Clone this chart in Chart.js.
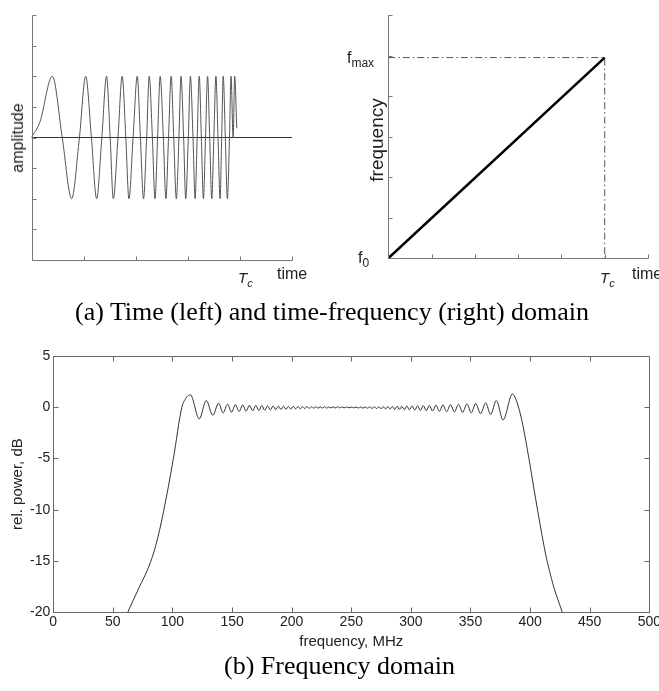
<!DOCTYPE html>
<html>
<head>
<meta charset="utf-8">
<script src="https://cdn.jsdelivr.net/npm/chart.js@4.4.1/dist/chart.umd.min.js"></script>
<style>
  body { margin: 0; width: 659px; height: 691px; overflow: hidden; background: #fff; position: relative;
         font-family: Arial, "Liberation Sans", sans-serif; color: #222; }
  canvas, .lbl, .cap { position: absolute; }
  .lbl { line-height: 1; white-space: nowrap; font-size: 16px; }
  .rot { transform: translate(-50%, -50%) rotate(-90deg); }
  .cap { font-family: "Liberation Serif", "Times New Roman", serif; font-size: 26px; line-height: 1; color: #000; white-space: nowrap; }
  sub { font-size: 0.75em; vertical-align: -0.35em; }
</style>
</head>
<body>
<canvas id="timeChart" width="330" height="300" style="left:0;top:0"></canvas>
<canvas id="sweepChart" width="329" height="300" style="left:330px;top:0"></canvas>
<canvas id="specChart" width="663" height="361" style="left:0;top:330px"></canvas>

<div class="lbl rot" style="left:18px;top:138px">amplitude</div>
<div class="lbl" style="left:277px;top:266px">time</div>
<div class="lbl" style="left:238px;top:270px;font-size:15px"><i>T<sub>c</sub></i></div>

<div class="lbl rot" style="left:376px;top:140px;font-size:19px">frequency</div>
<div class="lbl" style="left:347px;top:50px">f<sub>max</sub></div>
<div class="lbl" style="left:358px;top:250px">f<sub>0</sub></div>
<div class="lbl" style="left:632px;top:266px">time</div>
<div class="lbl" style="left:600px;top:270px;font-size:15px"><i>T<sub>c</sub></i></div>

<div class="cap" style="left:75px;top:299px">(a) Time (left) and time-frequency (right) domain</div>
<div class="cap" style="left:224px;top:653px">(b) Frequency domain</div>

<script>
const chirpT = [0, 0.16, 0.40, 0.59, 0.77, 0.92, 1.04, 1.15, 1.25, 1.35, 1.44, 1.51, 1.57, 1.66, 1.74, 1.81,
  1.87, 1.95, 2.03, 2.09, 2.15, 2.21, 2.26, 2.32, 2.37, 2.42, 2.47, 2.53, 2.58, 2.63, 2.68, 2.73,
  2.78, 2.83, 2.87, 2.92, 2.96, 3.01, 3.05, 3.10, 3.14, 3.18, 3.22, 3.26, 3.30, 3.34, 3.38, 3.42,
  3.46, 3.50, 3.54, 3.58, 3.62, 3.65, 3.68, 3.72, 3.76, 3.80, 3.83, 3.87, 3.90, 3.94, 3.97, 4.00];
const chirpAmp = [0, 0.25,
  1, 0, -1, 0, 1, 0, -1, 0, 1, 0, -1, 0, 1, 0, -1, 0, 1, 0, -1, 0, 1, 0, -1, 0, 1, 0, -1, 0,
  1, 0, -1, 0, 1, 0, -1, 0, 1, 0, -1, 0, 1, 0, -1, 0, 1, 0, -1, 0, 1, 0, -1, 0, 1, 0, -1, 0, 1, 0,
  1, 0.15];
const baseT = [0, 5];
const baseAmp = [0, 0];

// (a) right: linear frequency sweep
const sweepT = [0, 5];
const sweepF = [0, 4.95];
const guideT = [0, 5, 5];
const guideF = [4.95, 4.95, 0];

// (b) spectrum, dB vs MHz
const specFreq = [62.5, 72, 80, 86, 92.5, 100.8, 107.9, 111.5, 115, 122.5, 128.3, 133.9, 138.7,
  142.5, 146.2, 149.6, 152.8, 155.9, 158.9, 161.8, 164.6, 167.3, 169.9, 172.5, 175, 177.4, 179.8,
  182.1, 184.4, 186.6, 188.8, 191, 193.1, 195.2, 197.3, 199.3, 201.3, 203.3, 205.3, 207.2, 209.1,
  211, 212.9, 214.8, 216.7, 218.5, 220.3, 222.1, 223.9, 225.7, 227.5, 229.3, 231.1, 232.9, 234.7,
  236.5, 238.3, 240.1, 242, 244, 246, 248, 250, 252, 254, 256, 257.9, 259.8, 261.7, 263.6, 265.5,
  267.4, 269.3, 271.2, 273.1, 275, 276.9, 278.8, 280.7, 282.6, 284.5, 286.4, 288.4, 290.4, 292.4,
  294.5, 296.6, 298.8, 301, 303.3, 305.6, 308, 310.4, 312.9, 315.5, 318.2, 321, 323.9, 326.9, 330,
  333.2, 336.5, 339.9, 343.4, 347, 350.7, 354.3, 358.5, 362.7, 366.9, 371.7, 377.3, 385.2, 388,
  391, 394, 399, 403, 406.5, 410, 413.5, 417, 420.5, 424, 427];
const specDb = [-20, -17.6, -15.6, -13.5, -10.2, -5, 0, 0.9, 1.22, -1.14, 0.66, -0.78, 0.4,
  -0.55, 0.3, -0.48, 0.25, -0.42, 0.22, -0.38, 0.2, -0.35, 0.18, -0.32, 0.16, -0.3, 0.14,
  -0.27, 0.12, -0.24, 0.11, -0.22, 0.1, -0.2, 0.08, -0.18, 0.08, -0.16, 0.07, -0.15, 0.06,
  -0.13, 0.07, -0.12, 0.05, -0.1, 0.06, -0.1, 0.04, -0.08, 0.05, -0.09, 0.03, -0.07, 0.04,
  -0.08, 0.05, -0.06, 0.03, -0.06, 0.02, -0.05, 0.01, -0.06, 0.02, -0.08, 0.03, -0.09, 0.03, -0.1, 0.04,
  -0.12, 0.05, -0.13, 0.05, -0.15, 0.06, -0.16, 0.07, -0.18, 0.08, -0.2, 0.09, -0.22, 0.1,
  -0.24, 0.12, -0.26, 0.13, -0.28, 0.15, -0.31, 0.16, -0.34, 0.18, -0.37, 0.2, -0.4, 0.22, -0.43,
  0.25, -0.46, 0.28, -0.5, 0.32, -0.55, 0.36, -0.62, 0.42, -0.7, 0.66, -1.24, 1.3, 0.8,
  -0.3, -1.8, -5, -7.8, -10.2, -12.5, -14.6, -16.3, -17.8, -19, -20];

const pts = (xs, ys) => xs.map((x, i) => ({ x: x, y: ys[i] }));

Chart.defaults.font.family = 'Arial, "Liberation Sans", sans-serif';
Chart.defaults.color = '#222';

// axis lines + inward tick marks (matlab style)
const frameTicks = {
  id: 'frameTicks',
  afterDatasetsDraw(chart, args, opts) {
    const { ctx, chartArea: a, scales: { x, y } } = chart;
    const len = opts.len || 4;
    const r = v => Math.round(v) + 0.5;
    const L = r(a.left), R = r(a.right), T = r(a.top), B = r(a.bottom);
    ctx.save();
    ctx.strokeStyle = opts.color || '#777';
    ctx.lineWidth = 1;
    ctx.beginPath();
    ctx.moveTo(L, T); ctx.lineTo(L, B); ctx.lineTo(R, B);
    if (opts.box) { ctx.lineTo(R, T); ctx.lineTo(L, T); }
    x.ticks.forEach(t => {
      const px = r(x.getPixelForValue(t.value));
      ctx.moveTo(px, B); ctx.lineTo(px, B - len);
      if (opts.box) { ctx.moveTo(px, T); ctx.lineTo(px, T + len); }
    });
    y.ticks.forEach(t => {
      const py = r(y.getPixelForValue(t.value));
      ctx.moveTo(L, py); ctx.lineTo(L + len, py);
      if (opts.box) { ctx.moveTo(R, py); ctx.lineTo(R - len, py); }
    });
    ctx.stroke();
    ctx.restore();
  }
};

const bareAxis = (min, max, step) => ({
  type: 'linear', min: min, max: max,
  ticks: { display: false, stepSize: step },
  grid: { display: false, drawTicks: false },
  border: { display: false }
});

new Chart(document.getElementById('timeChart'), {
  type: 'line',
  data: {
    datasets: [
      { data: pts(chirpT, chirpAmp), borderColor: '#555', borderWidth: 1, pointRadius: 0, cubicInterpolationMode: 'monotone' },
      { data: pts(baseT, baseAmp), borderColor: '#333', borderWidth: 1, pointRadius: 0 }
    ]
  },
  options: {
    responsive: false, animation: false, events: [],
    layout: { padding: { left: 31.5, top: 15, right: 38, bottom: 40 } },
    plugins: { legend: { display: false }, tooltip: { enabled: false }, frameTicks: { color: '#777', len: 4 } },
    scales: { x: bareAxis(0, 5, 1), y: bareAxis(-2, 2, 0.5) }
  },
  plugins: [frameTicks]
});

new Chart(document.getElementById('sweepChart'), {
  type: 'line',
  data: {
    datasets: [
      { data: pts(guideT, guideF), borderColor: '#555', borderWidth: 1, borderDash: [7, 3, 1.5, 3], pointRadius: 0 },
      { data: pts(sweepT, sweepF), borderColor: '#000', borderWidth: 2.5, pointRadius: 0 }
    ]
  },
  options: {
    responsive: false, animation: false, events: [],
    layout: { padding: { left: 58.3, top: 15, right: 11, bottom: 41.7 } },
    plugins: { legend: { display: false }, tooltip: { enabled: false }, frameTicks: { color: '#777', len: 4 } },
    scales: { x: bareAxis(0, 6, 1), y: bareAxis(0, 6, 1) }
  },
  plugins: [frameTicks]
});

new Chart(document.getElementById('specChart'), {
  type: 'line',
  data: {
    datasets: [
      { data: pts(specFreq, specDb), borderColor: '#333', borderWidth: 1, pointRadius: 0, cubicInterpolationMode: 'monotone' }
    ]
  },
  options: {
    responsive: false, animation: false, events: [],
    layout: { padding: { left: 9, top: 26, right: 0, bottom: 40 } },
    plugins: { legend: { display: false }, tooltip: { enabled: false }, frameTicks: { color: '#666', len: 5, box: true } },
    scales: {
      x: {
        type: 'linear', min: 0, max: 500,
        ticks: { stepSize: 50, font: { size: 14 }, padding: 2, maxRotation: 0, autoSkip: false },
        grid: { display: false, drawTicks: false }, border: { display: false },
        title: { display: true, text: 'frequency, MHz', font: { size: 15 }, padding: 0 }
      },
      y: {
        type: 'linear', min: -20, max: 5,
        ticks: { stepSize: 5, font: { size: 14 }, padding: 3 },
        grid: { display: false, drawTicks: false }, border: { display: false },
        title: { display: true, text: 'rel. power, dB', font: { size: 15 }, padding: 0 }
      }
    }
  },
  plugins: [frameTicks]
});
</script>
</body>
</html>
